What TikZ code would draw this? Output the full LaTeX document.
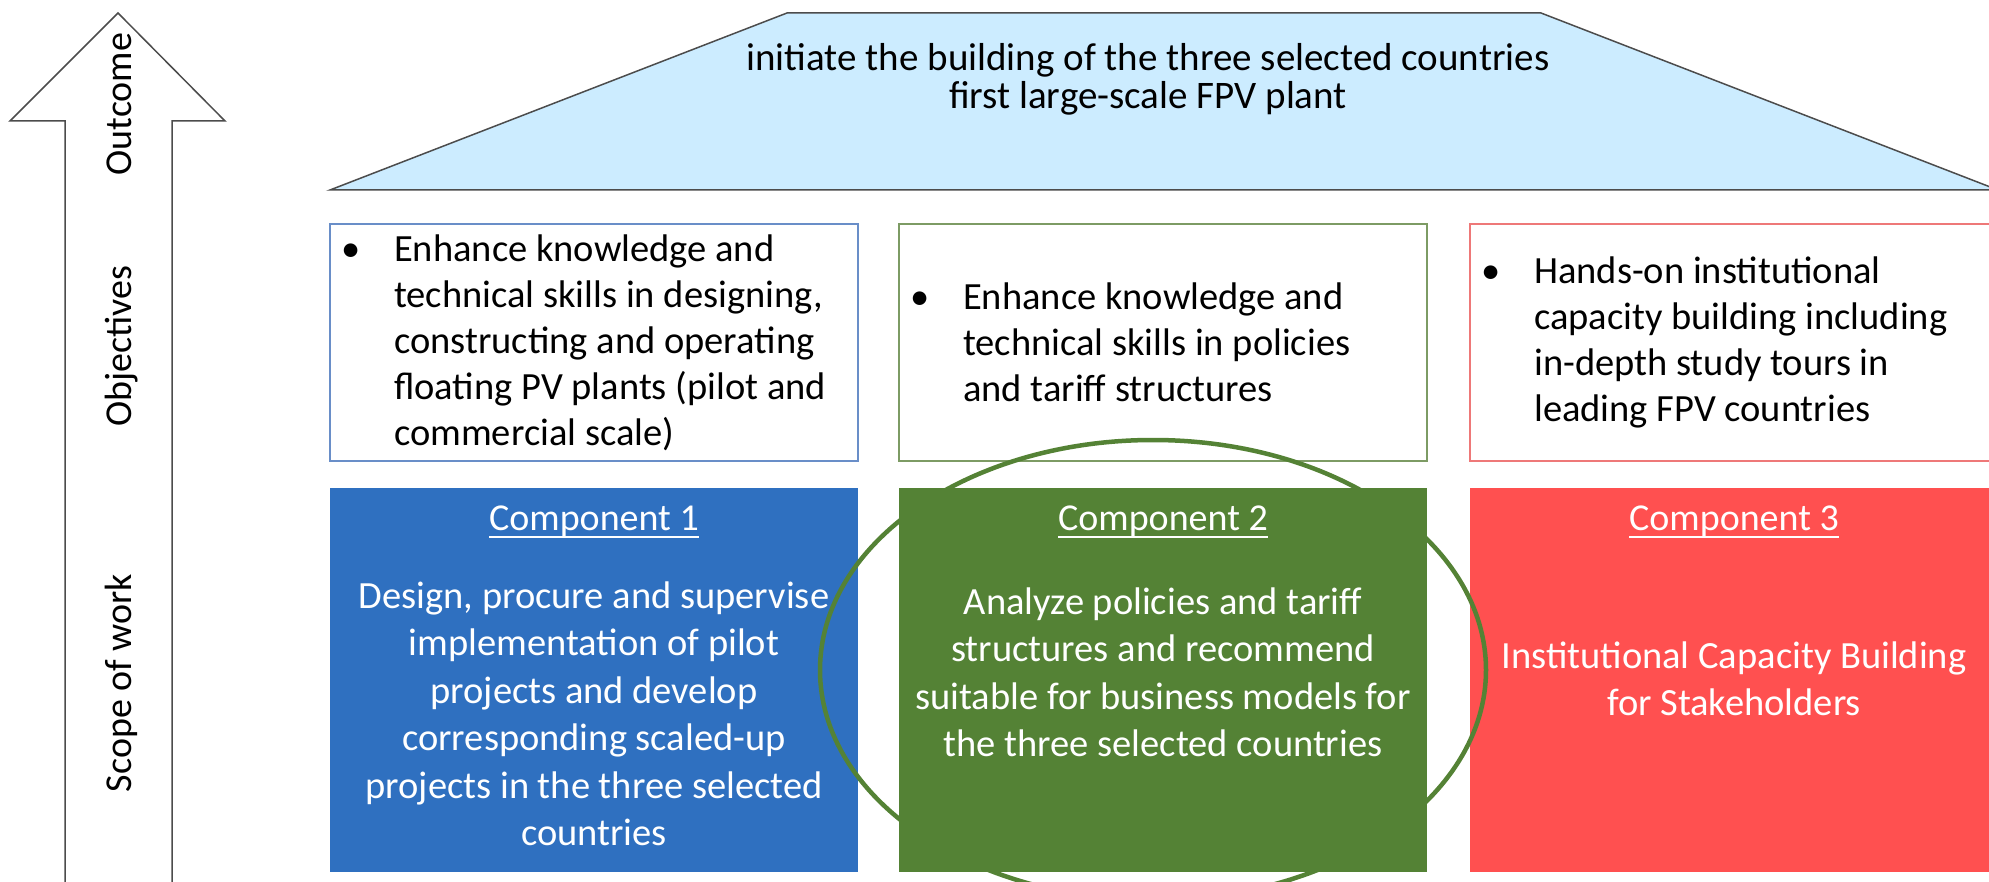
\documentclass[tikz,border=0pt]{standalone}
\usepackage{fontspec}
\setmainfont{Carlito}
\usepackage{tikz}
\definecolor{C1}{RGB}{47,112,192}
\definecolor{C2}{RGB}{84,130,53}
\definecolor{C3}{RGB}{255,80,80}
\definecolor{E1}{RGB}{105,142,200}
\definecolor{E2}{RGB}{125,155,100}
\definecolor{E3}{RGB}{238,120,120}
\definecolor{roof}{RGB}{204,236,255}
\newcommand{\drawthin}{\draw[line width=1.5pt, black!70]}
\newcommand{\cmpunder}[1]{\setbox0\hbox{#1}\rlap{\rule[-8pt]{\wd0}{1.8pt}}\box0}
% one objective: bordered box with a bulleted text block
\newcommand{\objective}[4]{
    \node[objbox, draw=#3] (obj#1) at (#2+264, 342.5) {};
    \node[objtext] (obj#1txt) at (#2+64, 342.5)
        {\llap{\makebox[86pt][c]{\textbullet}}\parbox[t]{455pt}{#4}};
}
% one component: filled box, underlined heading, centred body
\newcommand{\component}[5]{
    \node[compbox, fill=#3] (comp#1) at (#2+264, 680) {};
    \node[comphead] (head#1) at (#2+264, 530) {\cmpunder{Component #1}};
    \node[compbody] (body#1) at (#2+264, #4) {\parbox[t]{520pt}{\centering #5}};
}

\begin{document}
\begin{tikzpicture}[x=1pt, y=-1pt,
    objbox/.style={minimum width=528pt, minimum height=237pt, line width=1.5pt, inner sep=0pt},
    objtext/.style={anchor=west, inner sep=0pt, font=\fontsize{38.5}{46}\selectfont},
    compbox/.style={minimum width=528pt, minimum height=384pt, inner sep=0pt},
    comphead/.style={anchor=base, inner sep=0pt, text=white, font=\fontsize{38}{47}\selectfont},
    compbody/.style={anchor=base, inner sep=0pt, text=white, font=\fontsize{38.5}{47.5}\selectfont},
    sidelabel/.style={anchor=base, rotate=90, inner sep=0pt, font=\fontsize{38}{46}\selectfont}]
\useasboundingbox (0,0) rectangle (1989,882);

% roof
\drawthin[fill=roof] (330,190) -- (787,13) -- (1541,13) -- (1998,190) -- cycle;
\node[anchor=base, inner sep=0pt, font=\fontsize{39}{38}\selectfont] (goal) at (1148,71)
    {\parbox[t]{900pt}{\centering initiate the building of the three selected countries\\ first large-scale FPV plant}};

% upward arrow on the left
\drawthin (65,882) -- (65,121) -- (10,121) -- (118,13) -- (225,121) -- (172,121) -- (172,882);
\foreach \name/\lab/\y in {out/Outcome/104, obj/Objectives/346, sow/Scope of work/683}
    \node[sidelabel] (side\name) at (131,\y) {\lab};

\objective{1}{330}{E1}{Enhance knowledge and\\ technical skills in designing,\\ constructing and operating\\ floating PV plants (pilot and\\ commercial scale)}
\objective{2}{899}{E2}{Enhance knowledge and\\ technical skills in policies\\ and tariff structures}
\objective{3}{1470}{E3}{Hands-on institutional\\ capacity building including\\ in-depth study tours in\\ leading FPV countries}

\component{1}{330}{C1}{608}{Design, procure and supervise\\ implementation of pilot\\ projects and develop\\ corresponding scaled-up\\ projects in the three selected\\ countries}
\component{2}{899}{C2}{614}{Analyze policies and tariff\\ structures and recommend\\ suitable for business models for\\ the three selected countries}
\component{3}{1470}{C3}{668}{Institutional Capacity Building\\ for Stakeholders}

% ring round component 2
\draw[C2, line width=4.5pt] (1153,670) ellipse [x radius=333, y radius=230];
\end{tikzpicture}
\end{document}
